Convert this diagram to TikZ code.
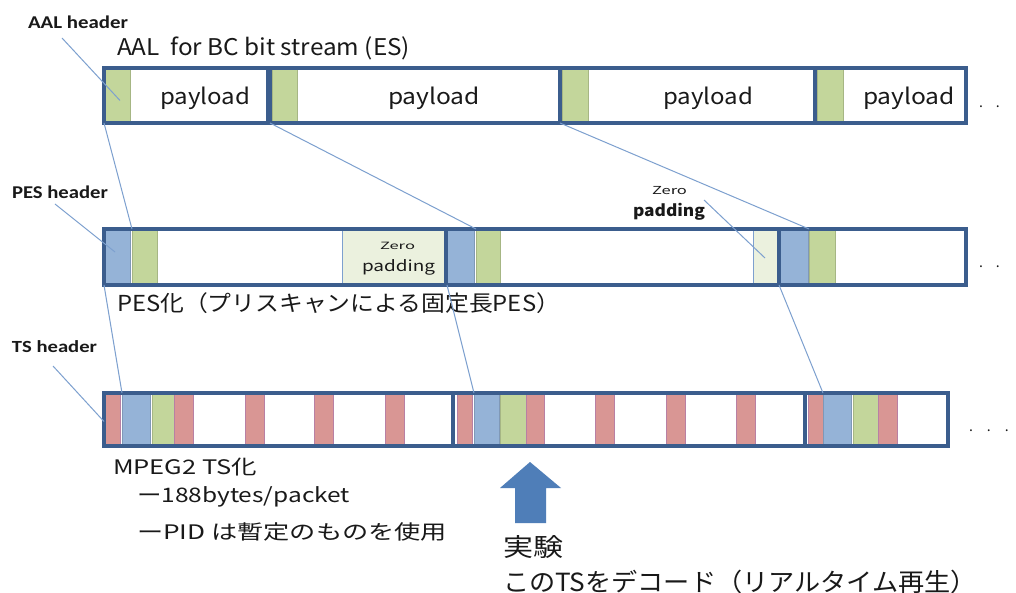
\documentclass[tikz,border=0pt]{standalone}
\usepackage{fontspec}
\usepackage{graphicx}
\setmainfont{Noto Sans CJK JP}
\newfontfamily\calfont{Carlito}
\definecolor{frameC}{HTML}{3B5D8D}
\definecolor{greenC}{HTML}{C3D69B}
\definecolor{blueC}{HTML}{95B3D7}
\definecolor{redC}{HTML}{D99694}
\definecolor{padC}{HTML}{EBF1DE}
\definecolor{leadC}{HTML}{7DA0CF}
\definecolor{arrowC}{HTML}{4F7EB8}
\newcommand\fs[1]{\fontsize{#1}{#1}\selectfont}
\begin{document}
\begin{tikzpicture}[x=1pt,y=-1pt,
  cell/.style={inner sep=0pt, outer sep=0pt, anchor=north west},
  gcell/.style={cell, fill=greenC, draw=greenC!85!black, line width=0.6pt},
  bcell/.style={cell, fill=blueC, draw=blueC!85!black, line width=0.6pt},
  rcell/.style={cell, fill=redC, draw=redC!85!blue, line width=0.6pt},
  pcell/.style={cell, fill=padC, draw=leadC, line width=1pt},
  pkt/.style={cell, draw=frameC, line width=3.4pt, fill=none},
  hA/.style={minimum height=55pt},
  hP/.style={minimum height=56pt},
  hT/.style={minimum height=53pt},
  w/.style={minimum width=#1},
  lead/.style={draw=leadC, line width=1pt},
  txt/.style={inner sep=0pt, outer sep=0pt, anchor=west, text=black!90},
  hdr/.style={txt, font=\calfont\bfseries\fs{18}}
]
\useasboundingbox (0,0) rectangle (1016,593);
\fill[white] (0,0) rectangle (1016,593);

% ---------- Row 1: AAL ----------
\node[gcell,hA,w=26pt] (ag1) at (104,68) {};
\node[gcell,hA,w=25pt] (ag2) at (272,68) {};
\node[gcell,hA,w=26pt] (ag3) at (562,68) {};
\node[gcell,hA,w=26pt] (ag4) at (817,68) {};
\node[pkt,hA,w=164pt] (ap1) at (104,68) {};
\node[pkt,hA,w=290pt] (ap2) at (270,68) {};
\node[pkt,hA,w=255pt] (ap3) at (560,68) {};
\node[pkt,hA,w=151pt] (ap4) at (815,68) {};
\node[txt,anchor=base west,font=\fs{22}] (pl1) at (160,105) {\resizebox{90pt}{\height}{payload}};
\node[txt,anchor=base west,font=\fs{22}] (pl2) at (388,105) {\resizebox{92pt}{\height}{payload}};
\node[txt,anchor=base west,font=\fs{22}] (pl3) at (663,105) {\resizebox{90pt}{\height}{payload}};
\node[txt,anchor=base west,font=\fs{22}] (pl4) at (863,105) {\resizebox{92pt}{\height}{payload}};
\node[txt,anchor=base west,font=\fs{14}] (d1) at (979,108) {.\hspace{13pt}.};
\node[hdr] (ahl) at (28,22) {\resizebox{100pt}{\height}{AAL header}};
\node[txt,font=\fs{23}] (atitle) at (117,48) {\resizebox{293pt}{\height}{AAL\ \ for BC bit stream (ES)}};

% ---------- Row 2: PES ----------
\node[bcell,hP,w=26pt] (pb1) at (104,229) {};
\node[gcell,hP,w=25pt] (pg1) at (132,229) {};
\node[pcell,hP,w=103pt] (pz1) at (342,229) {};
\node[bcell,hP,w=27pt] (pb2) at (447,229) {};
\node[gcell,hP,w=24pt] (pg2) at (476,229) {};
\node[pcell,hP,w=24pt] (pz2) at (753,229) {};
\node[bcell,hP,w=29pt] (pb3) at (779,229) {};
\node[gcell,hP,w=26pt] (pg3) at (809,229) {};
\node[pkt,hP,w=342pt] (pp1) at (104,229) {};
\node[pkt,hP,w=333pt] (pp2) at (446,229) {};
\node[pkt,hP,w=187pt] (pp3) at (779,229) {};
\node[txt,font=\fs{10}] (z1a) at (380,246) {\resizebox{35pt}{\height}{Zero}};
\node[txt,font=\fs{15}] (z1b) at (362,267) {\resizebox{73pt}{\height}{padding}};
\node[txt,font=\fs{11}] (z2a) at (652,191) {\resizebox{35pt}{\height}{Zero}};
\node[txt,font=\bfseries\fs{16}] (z2b) at (633,212) {\resizebox{72pt}{\height}{padding}};
\node[txt,anchor=base west,font=\fs{14}] (d2) at (979,268) {.\hspace{13pt}.};
\node[hdr] (phl) at (12,192) {\resizebox{96pt}{\height}{PES header}};
\node[txt,font=\fs{22}] (ptitle) at (117,303) {\resizebox{443pt}{\height}{PES化（プリスキャンによる固定長PES）}};

% ---------- Row 3: TS ----------
\node[rcell,hT,w=16pt] (tr1) at (104,393) {};
\node[bcell,hT,w=28pt] (tb1) at (122,393) {};
\node[gcell,hT,w=22pt] (tg1) at (152,393) {};
\node[rcell,hT,w=19pt] (tr2) at (174,393) {};
\node[rcell,hT,w=19pt] (tr3) at (245,393) {};
\node[rcell,hT,w=19pt] (tr4) at (314,393) {};
\node[rcell,hT,w=19pt] (tr5) at (385,393) {};
\node[rcell,hT,w=15pt] (tr6) at (457,393) {};
\node[bcell,hT,w=25pt] (tb2) at (474,393) {};
\node[gcell,hT,w=26pt] (tg2) at (500,393) {};
\node[rcell,hT,w=18pt] (tr7) at (526,393) {};
\node[rcell,hT,w=19pt] (tr8) at (595,393) {};
\node[rcell,hT,w=19pt] (tr9) at (666,393) {};
\node[rcell,hT,w=19pt] (tr10) at (736,393) {};
\node[rcell,hT,w=15pt] (tr11) at (808,393) {};
\node[bcell,hT,w=28pt] (tb3) at (823,393) {};
\node[gcell,hT,w=25pt] (tg3) at (853,393) {};
\node[rcell,hT,w=19pt] (tr12) at (878,393) {};
\node[pkt,hT,w=349pt] (tp1) at (104,393) {};
\node[pkt,hT,w=352pt] (tp2) at (453,393) {};
\node[pkt,hT,w=143pt] (tp3) at (805,393) {};
\node[txt,anchor=base west,font=\fs{14}] (d3) at (969,431) {.\hspace{14pt}.\hspace{14pt}.};
\node[hdr,font=\calfont\bfseries\fs{17}] (thl) at (12,347) {\resizebox{85pt}{\height}{TS header}};
\node[txt,font=\fs{20}] (m1) at (113,467) {\resizebox{144pt}{\height}{MPEG2 TS化}};
\node[txt,font=\fs{20}] (m2) at (137,497) {\resizebox{213pt}{\height}{ー188bytes/packet}};
\node[txt,font=\fs{20}] (m3) at (137,532) {\resizebox{310pt}{\height}{ーPID は暫定のものを使用}};

% ---------- Arrow and bottom text ----------
\fill[arrowC] (530,462) -- (561,488) -- (546,488) -- (546,523) -- (515,523) -- (515,488) -- (500,488) -- cycle;
\node[txt,font=\fs{25}] (e1) at (503,547) {\resizebox{60pt}{\height}{実験}};
\node[txt,font=\fs{25}] (e2) at (503,582) {\resizebox{474pt}{\height}{このTSをデコード（リアルタイム再生）}};

% ---------- Leaders / mapping lines ----------
\coordinate (ahlE) at (62,38);
\coordinate (phlE) at (55,204);
\coordinate (thlE) at (53,366);
\coordinate (z2E) at (704,200);
\draw[lead] (ahlE) -- ([xshift=3pt,yshift=-5pt]ag1.center);
\draw[lead] (phlE) -- ([xshift=-2pt,yshift=5pt]pb1.center);
\draw[lead] (thlE) -- ([yshift=-2pt]tr1.west);
\draw[lead] (z2E) -- ([yshift=-1pt]pz2.center);
\draw[lead] (ap1.south west) -- (pg1.north west);
\draw[lead] (ap2.south west) -- (pg2.north west);
\draw[lead] (ap3.south west) -- (pg3.north west);
\draw[lead] (pp1.south west) -- (tb1.north west);
\draw[lead] (pb2.south west) -- (tb2.north west);
\draw[lead] (pb3.south west) -- (tb3.north west);
\end{tikzpicture}
\end{document}
